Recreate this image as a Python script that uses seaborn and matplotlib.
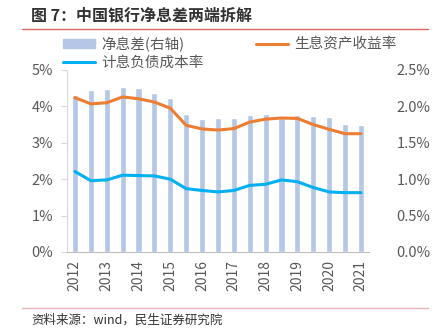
import matplotlib
matplotlib.use("Agg")
import matplotlib.pyplot as plt
import seaborn as sns
import pandas as pd
from matplotlib.lines import Line2D
from matplotlib.ticker import FixedLocator, FuncFormatter

# ---- data ----
periods = ["2012", "2012H2", "2013", "2013H2", "2014", "2014H2", "2015", "2015H2",
           "2016", "2016H2", "2017", "2017H2", "2018", "2018H2", "2019", "2019H2",
           "2020", "2020H2", "2021"]
year_labels = ["2012", "2013", "2014", "2015", "2016", "2017", "2018", "2019", "2020", "2021"]
nim = [2.15, 2.23, 2.24, 2.27, 2.25, 2.18, 2.12, 1.90, 1.83, 1.84, 1.84, 1.88,
       1.90, 1.84, 1.88, 1.87, 1.85, 1.76, 1.75]
asset_yield = [4.24, 4.07, 4.10, 4.26, 4.21, 4.12, 3.95, 3.48, 3.38, 3.35, 3.39, 3.57,
               3.65, 3.68, 3.67, 3.50, 3.37, 3.25, 3.25]
liab_cost = [2.21, 1.96, 1.98, 2.11, 2.10, 2.09, 2.00, 1.74, 1.69, 1.65, 1.69, 1.83,
             1.86, 1.98, 1.93, 1.77, 1.65, 1.63, 1.63]

df = pd.DataFrame({"period": periods, "idx": range(len(periods)),
                   "nim": nim, "asset": asset_yield, "liab": liab_cost})

sns.set_style("white")
plt.rcParams["font.family"] = ["Noto Sans CJK SC", "DejaVu Sans"]

GRAY = "#595959"
BAR = "#B4C7E7"
ORANGE = "#ED7D31"
BLUE = "#00B0F0"

fig = plt.figure(figsize=(4.35, 3.30), dpi=100)
ax = fig.add_axes([0.154, 0.2364, 0.694, 0.5515])
ax2 = ax.twinx()

sns.barplot(data=df, x="idx", y="nim", color=BAR, width=0.38, ax=ax2,
            saturation=1, native_scale=True)
sns.lineplot(data=df, x="idx", y="asset", color=ORANGE, lw=2.2, ax=ax)
sns.lineplot(data=df, x="idx", y="liab", color=BLUE, lw=2.2, ax=ax)

ax.set_zorder(ax2.get_zorder() + 1)
ax.patch.set_visible(False)

ax.set_xlim(-0.5, len(periods) - 0.5)
ax.set_ylim(0, 5)
ax2.set_ylim(0, 2.5)

ax.set_yticks([0, 1, 2, 3, 4, 5])
ax.yaxis.set_major_formatter(FuncFormatter(lambda v, p: f"{v:.0f}%"))
ax2.set_yticks([0, 0.5, 1.0, 1.5, 2.0, 2.5])
ax2.yaxis.set_major_formatter(FuncFormatter(lambda v, p: f"{v:.1f}%"))

year_pos = [i for i, p in enumerate(periods) if p in year_labels]
ax.set_xticks(year_pos)
ax.set_xticklabels(year_labels, rotation=90)
ax.xaxis.set_minor_locator(FixedLocator([i - 0.5 for i in range(len(periods) + 1)]))
ax.tick_params(axis="x", which="major", length=0, pad=6, labelsize=10, labelcolor=GRAY)
ax.tick_params(axis="x", which="minor", length=4, color="#BFBFBF", width=0.8, direction="out")
ax.tick_params(axis="y", length=4, color="#D9D9D9", width=0.8, labelsize=10.5,
               labelcolor=GRAY, pad=6)
ax2.tick_params(axis="y", length=0, labelsize=10.5, labelcolor=GRAY, pad=20)
ax.set_xlabel("")
ax.set_ylabel("")
ax2.set_xlabel("")
ax2.set_ylabel("")

for a in (ax, ax2):
    for s in ("top", "right"):
        a.spines[s].set_visible(False)
ax2.spines["left"].set_visible(False)
ax2.spines["bottom"].set_visible(False)
ax.spines["left"].set_color("#D9D9D9")
ax.spines["bottom"].set_color("#BFBFBF")
ax.spines["left"].set_linewidth(0.8)
ax.spines["bottom"].set_linewidth(0.8)
ax.grid(False)
ax2.grid(False)

handles = [plt.Rectangle((0, 0), 1, 1, color=BAR),
           Line2D([], [], color=BLUE, lw=2.2),
           Line2D([], [], color=ORANGE, lw=2.2)]
labels = ["净息差(右轴)", "计息负债成本率", "生息资产收益率"]
fig.legend(handles, labels, ncol=2, loc="upper left", bbox_to_anchor=(0.145, 0.889),
           frameon=False, fontsize=10.5, handlelength=2.2, handleheight=0.6,
           columnspacing=3.6, labelspacing=0.25, handletextpad=0.4,
           labelcolor=GRAY, borderaxespad=0, borderpad=0)

fig.text(0.072, 0.952, "图 7：中国银行净息差两端拆解", fontsize=11.5, fontweight="bold",
         color="#333333", va="center", ha="left")
fig.add_artist(Line2D([0.05, 0.985], [0.913, 0.913], color="#D9665F", lw=1.0))
fig.add_artist(Line2D([0.05, 0.985], [0.067, 0.067], color="#E8B4B4", lw=1.0))
fig.text(0.072, 0.030, "资料来源：wind，民生证券研究院", fontsize=9, color="#333333",
         va="center", ha="left")

fig.savefig("out.png", dpi=100)
